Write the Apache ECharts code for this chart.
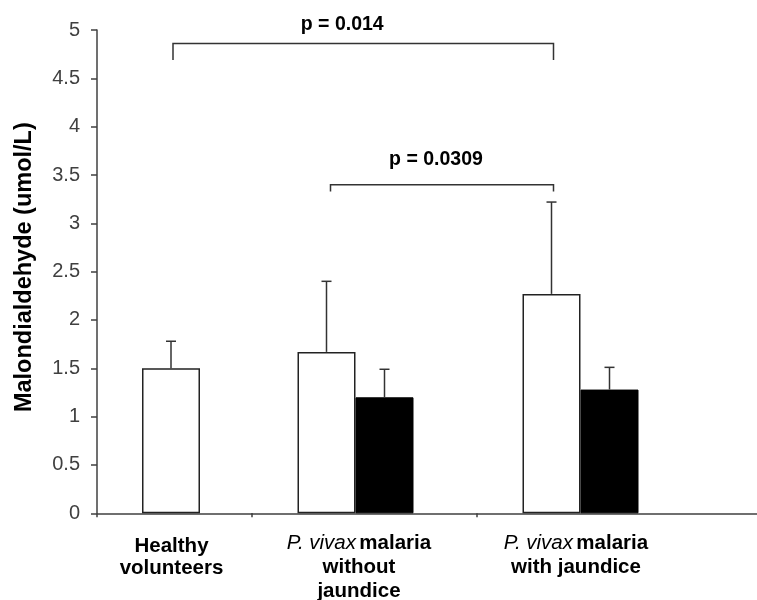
<!DOCTYPE html>
<html>
<head>
<meta charset="utf-8">
<script src="https://cdn.jsdelivr.net/npm/echarts@6/dist/echarts.min.js"></script>
<style>
html,body{margin:0;padding:0;background:#fff;}
#chart{width:757px;height:600px;}
</style>
</head>
<body>
<div id="chart"></div>
<script>
// ---- data ----
const healthyCategory = ['Healthy volunteers'];
const malariaCategories = ['P. vivax malaria without jaundice', 'P. vivax malaria with jaundice', ''];
const healthyMean = [1.50];
const healthyUpper = [1.78];
const whiteMeans = [1.67, 2.27, '-'];
const whiteUpper = [2.40, 3.22, '-'];
const blackMeans = [1.20, 1.28, '-'];
const blackUpper = [1.49, 1.51, '-'];
const yMin = 0, yMax = 5, yStep = 0.5;
const yTitle = 'Malondialdehyde (umol/L)';
// comparisons: label, bracket top value, leg end value, label value
const compLabels = ['p = 0.014', 'p = 0.0309'];
const compTop = [4.86, 3.40];
const compLeg = [4.69, 3.33];
const compLabelY = [5.06, 3.655];

// ---- layout constants ----
const BAR_W = 58, SPACER_A = 7, SPACER_B = 18, CAP_W = 10;
const offHealthy = -(BAR_W + SPACER_A) / 2 + BAR_W / 2;
const groupB = BAR_W * 2 + SPACER_B;
const offWhite = -groupB / 2 + BAR_W / 2;
const offBlack = -groupB / 2 + BAR_W + BAR_W / 2;
const AX = '#404040';
const FONT = "'Liberation Sans', Arial, sans-serif";

function errRender(offset) {
  return function (params, api) {
    const c = api.value(0);
    const m = api.value(1), u = api.value(2);
    const p0 = api.coord([c, m]);
    const p1 = api.coord([c, u]);
    const x = p0[0] + offset;
    return {
      type: 'group',
      children: [
        { type: 'line', shape: { x1: x, y1: p0[1], x2: x, y2: p1[1] }, style: { stroke: '#333', lineWidth: 1.5 } },
        { type: 'line', shape: { x1: x - CAP_W / 2, y1: p1[1], x2: x + CAP_W / 2, y2: p1[1] }, style: { stroke: '#333', lineWidth: 1.5 } }
      ]
    };
  };
}
function errData(means, uppers) {
  const out = [];
  means.forEach((m, i) => { if (m !== '-' && uppers[i] !== '-') out.push([i, m, uppers[i]]); });
  return out;
}

const bStyle = { fontFamily: FONT, fontWeight: 'bold', fontSize: 20.5, color: '#000' };
const iStyle = { fontFamily: FONT, fontStyle: 'italic', fontSize: 20.5, color: '#000' };

const chart = echarts.init(document.getElementById('chart'), null, { renderer: 'canvas' });
const option = {
  animation: false,
  backgroundColor: '#fff',
  grid: [
    { left: 97, top: 30, width: 155, bottom: 86.7, outerBoundsMode: 'none', containLabel: false },
    { left: 252, top: 30, width: 675, bottom: 86.7, outerBoundsMode: 'none', containLabel: false }
  ],
  xAxis: [
    {
      type: 'category', gridIndex: 0, data: healthyCategory,
      axisLine: { lineStyle: { color: AX, width: 1.5 } },
      axisTick: { show: true, length: 4, lineStyle: { color: AX, width: 1.5 } },
      axisLabel: {
        margin: 22, interval: 0,
        formatter: function () { return '{b|Healthy}{s0| }\n{b|volunteers}{s0| }'; },
        rich: {
          b: Object.assign({}, bStyle, { lineHeight: 22 }),
          s0: { width: 6, lineHeight: 22 }
        }
      }
    },
    {
      type: 'category', gridIndex: 1, data: malariaCategories,
      axisLine: { lineStyle: { color: AX, width: 1.5 } },
      axisTick: { show: true, length: 4, interval: function (idx) { return idx < 2; }, lineStyle: { color: AX, width: 1.5 } },
      axisLabel: {
        margin: 18, interval: 0,
        formatter: function (v, idx) {
          if (idx === 0) return '{i|P. vivax} {b|malaria}{s1| }\n{b|without}{s1| }\n{b|jaundice}{s1| }';
          if (idx === 1) return '{i|P. vivax} {b|malaria}{s2| }\n{b|with jaundice}{s2| }';
          return '';
        },
        rich: {
          b: Object.assign({}, bStyle, { lineHeight: 24 }),
          i: Object.assign({}, iStyle, { lineHeight: 24 }),
          s1: { width: 11, lineHeight: 24 },
          s2: { width: 27, lineHeight: 24 }
        }
      }
    }
  ],
  yAxis: [
    {
      type: 'value', gridIndex: 0, min: yMin, max: yMax, interval: yStep,
      name: yTitle, nameLocation: 'middle', nameRotate: 90, nameGap: 60,
      nameTextStyle: { fontFamily: FONT, fontWeight: 'bold', fontSize: 23.5, color: '#000', padding: [0, 0, 0, 9] },
      axisLine: { show: true, lineStyle: { color: AX, width: 1.5 } },
      axisTick: { show: true, length: 6, lineStyle: { color: AX, width: 1.5 } },
      axisLabel: { fontFamily: FONT, fontSize: 20, color: AX, margin: 17 },
      splitLine: { show: false }
    },
    {
      type: 'value', gridIndex: 1, min: yMin, max: yMax, interval: yStep, show: false,
      splitLine: { show: false }
    }
  ],
  series: [
    {
      name: 'Healthy', type: 'bar', xAxisIndex: 0, yAxisIndex: 0, data: healthyMean,
      barWidth: BAR_W, barGap: 0,
      itemStyle: { color: '#fff', borderColor: '#222', borderWidth: 1.5 }
    },
    {
      name: 'spacerA', type: 'bar', xAxisIndex: 0, yAxisIndex: 0, data: ['-'],
      barWidth: SPACER_A, barGap: 0, silent: true
    },
    {
      name: 'Group 1', type: 'bar', xAxisIndex: 1, yAxisIndex: 1, data: whiteMeans,
      barWidth: BAR_W, barGap: 0,
      itemStyle: { color: '#fff', borderColor: '#222', borderWidth: 1.5 }
    },
    {
      name: 'Group 2', type: 'bar', xAxisIndex: 1, yAxisIndex: 1, data: blackMeans,
      barWidth: BAR_W, barGap: 0,
      itemStyle: { color: '#000', borderColor: '#000', borderWidth: 1 }
    },
    {
      name: 'spacerB', type: 'bar', xAxisIndex: 1, yAxisIndex: 1, data: ['-', '-', '-'],
      barWidth: SPACER_B, barGap: 0, silent: true
    },
    {
      type: 'custom', xAxisIndex: 0, yAxisIndex: 0, z: 5,
      renderItem: errRender(offHealthy), data: errData(healthyMean, healthyUpper)
    },
    {
      type: 'custom', xAxisIndex: 1, yAxisIndex: 1, z: 5,
      renderItem: errRender(offWhite), data: errData(whiteMeans, whiteUpper)
    },
    {
      type: 'custom', xAxisIndex: 1, yAxisIndex: 1, z: 5,
      renderItem: errRender(offBlack), data: errData(blackMeans, blackUpper)
    }
  ]
};
chart.setOption(option);

// ---- significance brackets (positions from the library's scales) ----
function px(grid, cat, v) {
  return chart.convertToPixel({ xAxisIndex: grid, yAxisIndex: grid }, [cat, v]);
}
const healthyX = px(0, 0, 0)[0] + offHealthy;
const withoutX = px(1, 0, 0)[0] + offWhite;
const withX = px(1, 1, 0)[0] + offWhite;
const ends = [[healthyX + 2, withX + 2], [withoutX + 4, withX + 2]];
const labelDx = [-21, -6];
const graphics = [];
compLabels.forEach(function (lab, k) {
  const yT = px(0, 0, compTop[k])[1];
  const yL = px(0, 0, compLeg[k])[1];
  const yTxt = px(0, 0, compLabelY[k])[1];
  const x1 = ends[k][0], x2 = ends[k][1];
  graphics.push({
    type: 'polyline', z: 10,
    shape: { points: [[x1, yL], [x1, yT], [x2, yT], [x2, yL]] },
    style: { stroke: '#333', lineWidth: 1.5, fill: null }
  });
  graphics.push({
    type: 'text', z: 10, x: (x1 + x2) / 2 + labelDx[k], y: yTxt,
    style: { text: lab, fill: '#000', font: "bold 19.5px 'Liberation Sans', Arial, sans-serif", textAlign: 'center', textVerticalAlign: 'middle' }
  });
});
chart.setOption({ graphic: graphics });
</script>
</body>
</html>
